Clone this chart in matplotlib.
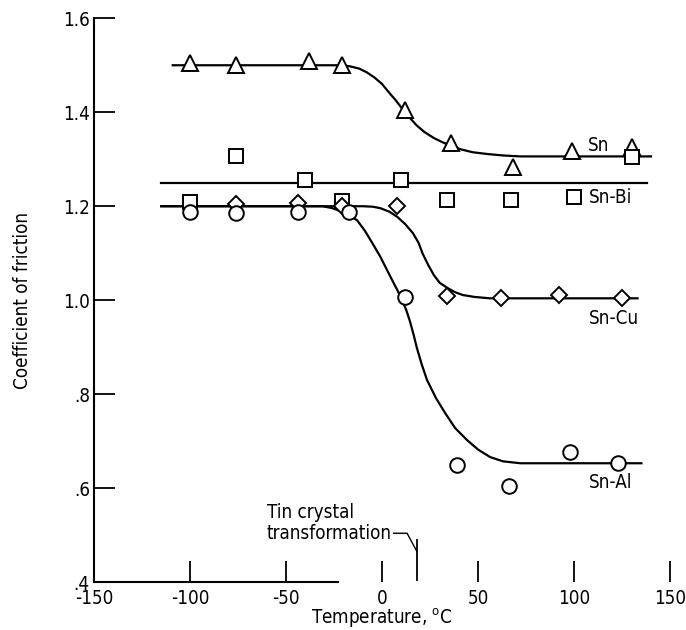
import matplotlib
matplotlib.use('Agg')
import matplotlib.pyplot as plt

plt.rcParams['font.family'] = ['DejaVu Sans']
plt.rcParams['font.stretch'] = 'condensed'
plt.rcParams['axes.unicode_minus'] = False

# measured points
sn_t = [-100, -76, -38, -21, 12, 36, 68, 99, 130]
sn_v = [1.505, 1.50, 1.51, 1.50, 1.404, 1.334, 1.283, 1.317, 1.326]

bi_t = [-100, -76, -40, -21, 10, 34, 67, 100, 130]
bi_v = [1.209, 1.306, 1.255, 1.211, 1.255, 1.213, 1.213, 1.22, 1.305]

cu_t = [-76, -44, -21, 8, 34, 62, 92, 125]
cu_v = [1.204, 1.206, 1.20, 1.20, 1.008, 1.004, 1.01, 1.005]

al_t = [-100, -76, -44, -17, 12, 39, 66, 98, 123]
al_v = [1.187, 1.185, 1.187, 1.187, 1.007, 0.649, 0.604, 0.677, 0.653]

# faired curves
sn_fit_t = [-109, -22, -17, -12, -8, -4, 0, 4, 7, 10, 14, 18, 22, 27, 31, 35, 41, 47, 55, 63, 72, 140]
sn_fit_v = [1.50, 1.50, 1.498, 1.493, 1.485, 1.474, 1.46, 1.44, 1.426, 1.41, 1.39, 1.372, 1.358, 1.345, 1.337, 1.33, 1.321, 1.315, 1.311, 1.308, 1.306, 1.306]

bi_fit_t = [-115, 138]
bi_fit_v = [1.25, 1.25]

cu_fit_t = [-115, -10, -5, -1, 4, 8, 12, 16, 19, 21, 24, 27, 30, 34, 38, 42, 48, 56, 133]
cu_fit_v = [1.20, 1.20, 1.199, 1.196, 1.188, 1.177, 1.162, 1.143, 1.122, 1.10, 1.075, 1.053, 1.037, 1.026, 1.017, 1.011, 1.007, 1.004, 1.004]

al_fit_t = [-115, -31, -26, -22, -17, -13, -9, -5, -1, 2.6, 5.2, 8, 10.4, 12.5, 14.5, 16.5, 18, 20.5, 23.4, 28, 32.8, 38, 44.3, 50, 56.3, 63, 72, 135]
al_fit_v = [1.20, 1.20, 1.196, 1.19, 1.181, 1.17, 1.148, 1.121, 1.093, 1.064, 1.043, 1.021, 1.0, 0.98, 0.955, 0.925, 0.90, 0.865, 0.83, 0.792, 0.76, 0.728, 0.702, 0.682, 0.666, 0.657, 0.653, 0.653]

transition_t = 18

fig, ax = plt.subplots(figsize=(6.86, 6.30), dpi=100)
fig.subplots_adjust(left=0.137, right=0.977, bottom=0.076, top=0.971)

lw = 1.6
for t, v in [(sn_fit_t, sn_fit_v), (bi_fit_t, bi_fit_v), (cu_fit_t, cu_fit_v), (al_fit_t, al_fit_v)]:
    ax.plot(t, v, color='black', lw=lw, zorder=2, solid_joinstyle='round')

mk = dict(color='black', mfc='white', mec='black', mew=1.4, ls='none', zorder=3)
ax.plot(sn_t, sn_v, marker='^', ms=12, **mk)
ax.plot(bi_t, bi_v, marker='s', ms=10, **mk)
ax.plot(cu_t, cu_v, marker='D', ms=8.5, **mk)
ax.plot(al_t, al_v, marker='o', ms=10.5, **mk)

fs = 13.5
ax.text(107, 1.33, 'Sn', fontsize=fs, va='center')
ax.text(107.5, 1.219, 'Sn-Bi', fontsize=fs, va='center')
ax.text(107.5, 0.962, 'Sn-Cu', fontsize=fs, va='center')
ax.text(107.5, 0.613, 'Sn-Al', fontsize=fs, va='center')

# tin crystal transformation marker
ax.plot([transition_t, transition_t], [0.404, 0.489], color='black', lw=1.3)
ax.plot([6, 13, transition_t], [0.504, 0.504, 0.466], color='black', lw=1.0)
ax.text(-60, 0.549, 'Tin crystal', fontsize=fs, va='center')
ax.text(-60, 0.504, 'transformation', fontsize=fs, va='center')

ax.set_xlim(-150, 150)
ax.set_ylim(0.4, 1.6)
ax.set_xticks([-150, -100, -50, 0, 50, 100, 150])
ax.set_yticks([0.4, 0.6, 0.8, 1.0, 1.2, 1.4, 1.6])
ax.set_yticklabels(['.4', '.6', '.8', '1.0', '1.2', '1.4', '1.6'])
ax.tick_params(direction='in', length=15, width=1.3, labelsize=fs)
ax.tick_params(axis='x', pad=5)
ax.tick_params(axis='y', pad=3)

for s in ['top', 'right']:
    ax.spines[s].set_visible(False)
ax.spines['left'].set_linewidth(1.5)
ax.spines['bottom'].set_linewidth(1.5)
ax.spines['bottom'].set_bounds(-150, -23)

ax.set_xlabel('Temperature, $^{\\rm o}$C', fontsize=fs, labelpad=-1)
ax.set_ylabel('Coefficient of friction', fontsize=fs, labelpad=22)

fig.savefig('out.png', dpi=100)
